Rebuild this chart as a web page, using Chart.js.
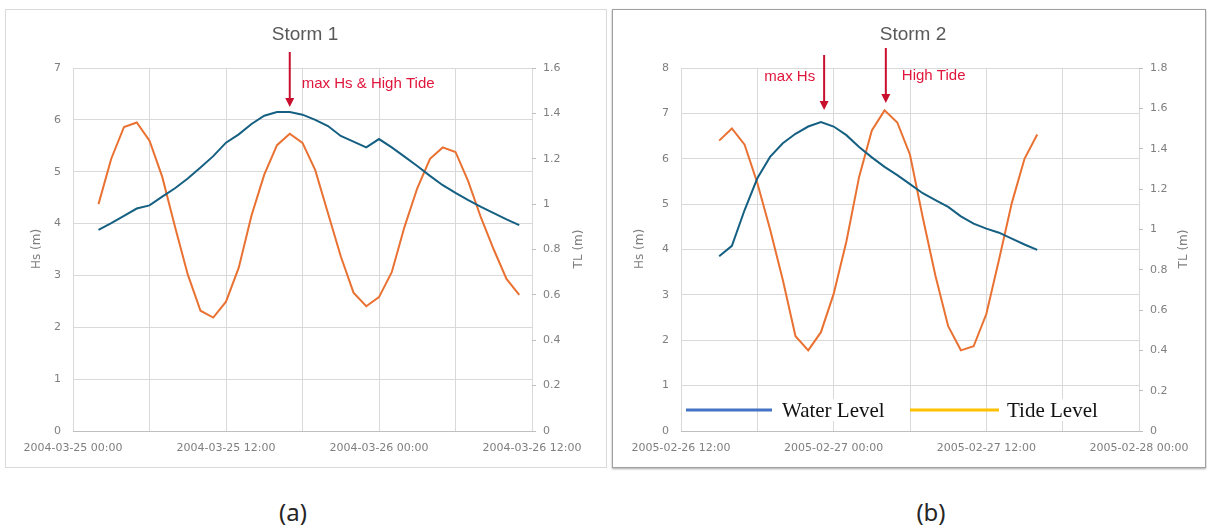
<!DOCTYPE html>
<html lang="en">
<head>
  <meta charset="UTF-8" />
  <title>Storm 1 / Storm 2 - Hs and TL</title>
  <style>
    body {
      margin: 0;
      width: 1207px;
      height: 529px;
      background: #fff;
      position: relative;
      overflow: hidden;
    }
    .marco {
      position: absolute;
      top: 9px;
      height: 459px;
      box-sizing: border-box;
    }
    #marcoA { left: 5px; width: 602px; border: 1px solid #d9d9d9; }
    #marcoB { left: 612px; width: 594px; border: 1px solid #a0a0a0; box-shadow: 0 1px 2px rgba(0,0,0,0.35); }
    canvas { position: absolute; top: 9px; }
    #chartA { left: 5px; }
    #chartB { left: 612px; }
    .caption {
      position: absolute;
      top: 495px;
      font-family: "Noto Sans", sans-serif;
      font-size: 24px;
      color: #262626;
      transform: translateX(-50%);
    }
  </style>
</head>
<body>
  <div class="marco" id="marcoA"></div>
  <div class="marco" id="marcoB"></div>
  <canvas id="chartA" width="602" height="459"></canvas>
  <canvas id="chartB" width="594" height="459"></canvas>
  <div class="caption" style="left:293px">(a)</div>
  <div class="caption" style="left:931px">(b)</div>

  <script src="https://cdn.jsdelivr.net/npm/chart.js"></script>
  <script>
    // Storm 1 (hours after 2004-03-25 00:00)
    const tickLabelsA = ["2004-03-25 00:00", "2004-03-25 12:00", "2004-03-26 00:00", "2004-03-26 12:00"];
    const hoursA = [2, 3, 4, 5, 6, 7, 8, 9, 10, 11, 12, 13, 14, 15, 16, 17, 18, 19, 20, 21, 22, 23, 24, 25, 26, 27, 28, 29, 30, 31, 32, 33, 34, 35];
    const hsA = [3.88, 4.01, 4.15, 4.29, 4.35, 4.52, 4.68, 4.87, 5.08, 5.30, 5.56, 5.72, 5.92, 6.08, 6.15, 6.15, 6.10, 6.00, 5.88, 5.69, 5.58, 5.47, 5.63, 5.47, 5.29, 5.11, 4.92, 4.74, 4.59, 4.45, 4.32, 4.20, 4.08, 3.97];
    const tlA = [1.00, 1.20, 1.34, 1.36, 1.28, 1.12, 0.90, 0.69, 0.53, 0.50, 0.57, 0.72, 0.95, 1.13, 1.26, 1.31, 1.27, 1.15, 0.96, 0.77, 0.61, 0.55, 0.59, 0.70, 0.90, 1.07, 1.20, 1.25, 1.23, 1.10, 0.94, 0.80, 0.67, 0.60];

    // Storm 2 (hours after 2005-02-26 12:00)
    const tickLabelsB = ["2005-02-26 12:00", "2005-02-27 00:00", "2005-02-27 12:00", "2005-02-28 00:00"];
    const hoursB = [3, 4, 5, 6, 7, 8, 9, 10, 11, 12, 13, 14, 15, 16, 17, 18, 19, 20, 21, 22, 23, 24, 25, 26, 27, 28];
    const hsB = [3.85, 4.08, 4.87, 5.57, 6.04, 6.34, 6.55, 6.71, 6.81, 6.71, 6.52, 6.26, 6.03, 5.82, 5.64, 5.44, 5.24, 5.09, 4.94, 4.73, 4.57, 4.46, 4.37, 4.24, 4.11, 3.99];
    const tlB = [1.44, 1.50, 1.42, 1.23, 1.00, 0.75, 0.47, 0.40, 0.49, 0.68, 0.94, 1.26, 1.49, 1.59, 1.53, 1.37, 1.06, 0.77, 0.52, 0.40, 0.42, 0.58, 0.85, 1.13, 1.35, 1.47];

    const AZUL = "#156082";
    const NARANJA = "#E97132";
    const GRIS_TEXTO = "#7f7f7f";
    const ROJO_FLECHA = "#c8102e";
    const ROJO_TEXTO = "#e0163c";

    function puntos(xs, ys) {
      return xs.map((x, i) => ({ x: x, y: ys[i] }));
    }

    function flecha(ctx, x, yTop, yTip) {
      ctx.save();
      ctx.strokeStyle = ROJO_FLECHA;
      ctx.fillStyle = ROJO_FLECHA;
      ctx.lineWidth = 2;
      ctx.beginPath();
      ctx.moveTo(x, yTop);
      ctx.lineTo(x, yTip - 8);
      ctx.stroke();
      ctx.beginPath();
      ctx.moveTo(x - 4.5, yTip - 9);
      ctx.lineTo(x + 4.5, yTip - 9);
      ctx.lineTo(x, yTip);
      ctx.closePath();
      ctx.fill();
      ctx.restore();
    }

    function textoVertical(ctx, s, x, y) {
      ctx.save();
      ctx.translate(x, y);
      ctx.rotate(-Math.PI / 2);
      ctx.textAlign = "center";
      ctx.textBaseline = "middle";
      ctx.fillText(s, 0, 0);
      ctx.restore();
    }

    function crearGrafico(id, cfg) {
      const overlay = {
        id: "overlay",
        afterDraw(chart) {
          const ctx = chart.ctx;
          ctx.save();
          ctx.fillStyle = "#595959";
          ctx.font = '19px "Liberation Sans", Arial, sans-serif';
          ctx.textAlign = "center";
          ctx.textBaseline = "middle";
          ctx.fillText(cfg.titulo, cfg.tituloX, 26);

          ctx.fillStyle = GRIS_TEXTO;
          ctx.font = '12px "DejaVu Sans", sans-serif';
          textoVertical(ctx, "Hs (m)", cfg.hsX, 240);
          textoVertical(ctx, "TL (m)", cfg.tlX, 240);

          ctx.font = '15px "Liberation Sans", Arial, sans-serif';
          ctx.fillStyle = ROJO_TEXTO;
          ctx.textBaseline = "middle";
          cfg.notas.forEach(n => {
            const x = chart.scales.x.getPixelForValue(n.hora);
            flecha(ctx, x, n.y0, n.y1);
            ctx.textAlign = n.align;
            ctx.fillText(n.texto, x + n.dx, n.ty);
          });

          if (cfg.leyenda) {
            ctx.font = '21px "Liberation Serif", "Times New Roman", serif';
            ctx.textAlign = "left";
            ctx.textBaseline = "middle";
            cfg.leyenda.forEach(l => {
              ctx.strokeStyle = l.color;
              ctx.lineWidth = 3;
              ctx.beginPath();
              ctx.moveTo(l.x0, 401);
              ctx.lineTo(l.x1, 401);
              ctx.stroke();
              const w = ctx.measureText(l.texto).width;
              ctx.fillStyle = "#fff";
              ctx.fillRect(l.tx - 2, 390, w + 4, 22);
              ctx.fillStyle = "#111";
              ctx.fillText(l.texto, l.tx, 402);
            });
          }
          ctx.restore();
        }
      };

      return new Chart(document.getElementById(id), {
        type: "line",
        data: {
          datasets: [
            {
              label: "Hs",
              data: puntos(cfg.horas, cfg.hs),
              borderColor: AZUL,
              borderWidth: 2,
              pointRadius: 0,
              tension: 0,
              yAxisID: "y"
            },
            {
              label: "TL",
              data: puntos(cfg.horas, cfg.tl),
              borderColor: NARANJA,
              borderWidth: 2,
              pointRadius: 0,
              tension: 0,
              yAxisID: "y2"
            }
          ]
        },
        options: {
          responsive: false,
          animation: false,
          devicePixelRatio: 1,
          layout: { padding: { top: 59, left: 0, right: 0, bottom: 0 } },
          plugins: {
            legend: { display: false },
            title: { display: false },
            tooltip: { enabled: false }
          },
          scales: {
            x: {
              type: "linear",
              min: 0,
              max: 36,
              afterFit: s => { s.height = 37; },
              ticks: {
                stepSize: 6,
                autoSkip: false,
                maxRotation: 0,
                padding: 11,
                color: GRIS_TEXTO,
                font: { family: "DejaVu Sans", size: 11 },
                callback: v => (v % 12 === 0 ? cfg.etiquetas[v / 12] : "")
              },
              grid: { color: "#d9d9d9", drawTicks: false },
              border: { color: "#bfbfbf" }
            },
            y: {
              position: "left",
              min: 0,
              max: cfg.hsMax,
              afterFit: s => { s.width = cfg.izq; },
              ticks: {
                stepSize: 1,
                padding: 12,
                color: GRIS_TEXTO,
                font: { family: "DejaVu Sans", size: 11 }
              },
              grid: { color: "#d9d9d9", drawTicks: false },
              border: { display: false }
            },
            y2: {
              position: "right",
              min: 0,
              max: cfg.tlMax,
              afterFit: s => { s.width = cfg.der; },
              ticks: {
                stepSize: 0.2,
                padding: 7,
                color: GRIS_TEXTO,
                font: { family: "DejaVu Sans", size: 11 },
                callback: v => String(+v.toFixed(1))
              },
              grid: { drawOnChartArea: false, tickLength: 4, tickColor: "#bfbfbf" },
              border: { display: false }
            }
          }
        },
        plugins: [overlay]
      });
    }

    crearGrafico("chartA", {
      titulo: "Storm 1", tituloX: 300,
      etiquetas: tickLabelsA, horas: hoursA, hs: hsA, tl: tlA,
      hsMax: 7, tlMax: 1.6, izq: 68, der: 75,
      hsX: 31.5, tlX: 573.5,
      notas: [
        { hora: 17, y0: 43, y1: 98, texto: "max Hs & High Tide", align: "left", dx: 12, ty: 75 }
      ]
    });

    crearGrafico("chartB", {
      titulo: "Storm 2", tituloX: 301,
      etiquetas: tickLabelsB, horas: hoursB, hs: hsB, tl: tlB,
      hsMax: 8, tlMax: 1.8, izq: 69, der: 67,
      hsX: 28, tlX: 572,
      notas: [
        { hora: 11.25, y0: 46, y1: 101, texto: "max Hs", align: "right", dx: -9, ty: 68 },
        { hora: 16.1, y0: 39, y1: 94, texto: "High Tide", align: "left", dx: 16, ty: 67 }
      ],
      leyenda: [
        { color: "#4472C4", x0: 74, x1: 160, texto: "Water Level", tx: 170 },
        { color: "#FFC000", x0: 298, x1: 387, texto: "Tide Level", tx: 395 }
      ]
    });
  </script>
</body>
</html>
